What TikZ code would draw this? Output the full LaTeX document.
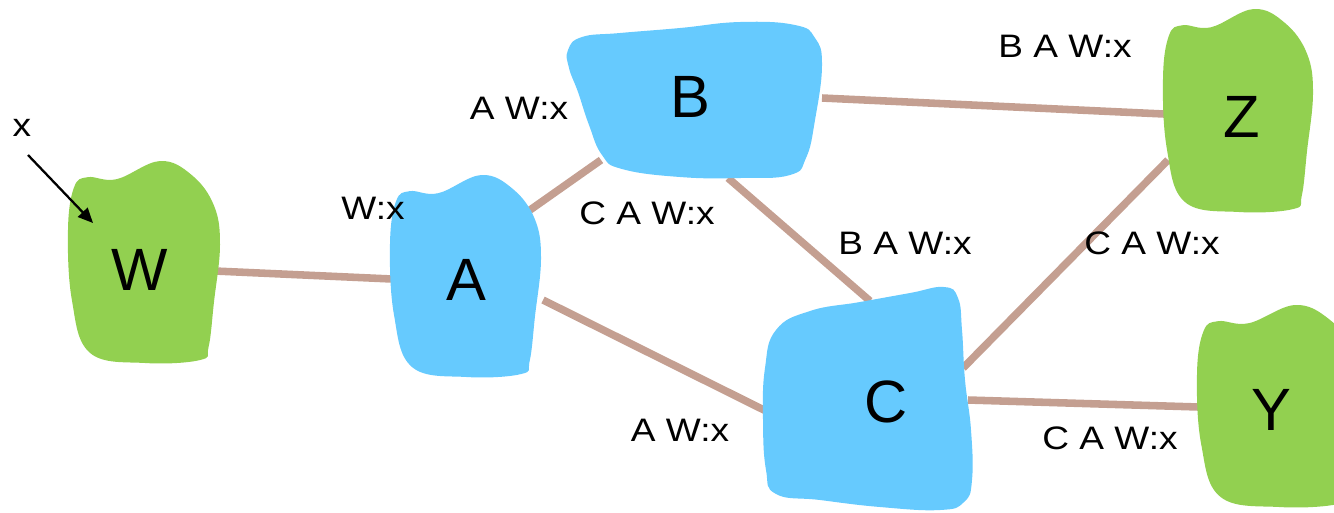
\documentclass[tikz,border=0pt]{standalone}
\usepackage{fontspec}
\setmainfont{Liberation Sans}
\newfontfamily\annfont[FakeStretch=1.14]{Liberation Sans}
\usetikzlibrary{arrows.meta}
\definecolor{leafgreen}{HTML}{92D050}
\definecolor{skyblue}{HTML}{66CAFE}
\definecolor{linktan}{HTML}{C49F91}
\tikzset{
  gwfill/.style={fill=leafgreen},
  rtfill/.style={fill=skyblue},
  link/.style={draw=linktan, line width=4.3pt},
  big/.style={font=\fontsize{34}{36}\selectfont, inner sep=0pt},
  ann/.style={font=\annfont\fontsize{18.5}{20}\selectfont, inner sep=0pt},
  % generic rounded cloud in a unit box, scaled per use
  cloud/.pic={
    \path[pic actions] plot[smooth cycle, tension=0.65] coordinates {
      (0.13,0.08) (0.32,0.09) (0.605,0) (0.815,0.07) (0.96,0.22)
      (1.0,0.415) (0.96,0.70) (0.925,0.92) (0.87,0.985) (0.507,1.0)
      (0.145,0.95) (0.026,0.69) (0,0.34) (0.04,0.13)};
  }
}
\begin{document}
\begin{tikzpicture}[x=0.02cm, y=-0.02cm]
\useasboundingbox (0,0) rectangle (1334,512);

% connector end points on the cloud rims
\coordinate (wa1) at (215,271);  \coordinate (wa2) at (392,279);
\coordinate (ab1) at (530,210);  \coordinate (ab2) at (601,160);
\coordinate (ac1) at (543,300);  \coordinate (ac2) at (768,412);
\coordinate (bc1) at (728,178);  \coordinate (bc2) at (870,301);
\coordinate (bz1) at (822,98);   \coordinate (bz2) at (1164,114);
\coordinate (cz1) at (963,368);  \coordinate (cz2) at (1168,160);
\coordinate (cy1) at (968,400);  \coordinate (cy2) at (1199,407);

% links
\draw[link] (wa1) -- (wa2);
\draw[link] (ab1) -- (ab2);
\draw[link] (ac1) -- (ac2);
\draw[link] (bc1) -- (bc2);
\draw[link] (bz1) -- (bz2);
\draw[link] (cz1) -- (cz2);
\draw[link] (cy1) -- (cy2);

% gateway clouds
\pic[gwfill, xscale=152, yscale=202] at (68,161) {cloud};
\pic[gwfill, xscale=150, yscale=203] at (1163,9) {cloud};
\pic[gwfill, xscale=162, yscale=202] at (1197,305) {cloud};
% router clouds
\pic[rtfill, xscale=151, yscale=202] at (390,175) {cloud};
\fill[rtfill] plot[smooth cycle, tension=0.75] coordinates {
  (568,50) (582,37) (620,33) (680,28) (740,22) (795,25) (815,38)
  (822,65) (815,120) (806,158) (790,175) (740,178) (680,177)
  (622,169) (602,155) (589,125) (578,92) (569,68)};
\fill[rtfill] plot[smooth cycle, tension=0.75] coordinates {
  (776,330) (810,311) (860,302) (910,293) (944,287) (958,298)
  (962,330) (965,380) (971,430) (972,480) (964,502) (940,510)
  (880,507) (820,500) (776,494) (766,470) (763,420) (765,368)};

% node names
\node[big] (W) at (140,270) {W};
\node[big] (A) at (466,280) {A};
\node[big] (B) at (690,97) {B};
\node[big] (C) at (886,402) {C};
\node[big] (Z) at (1242,117) {Z};
\node[big] (Y) at (1271,410) {Y};

% advertised paths
\node[ann] (lx) at (22,128) {x};
\node[ann] (lA) at (373,208) {W:x};
\node[ann] (lAB) at (519,108) {A W:x};
\node[ann] (lBA) at (647,213) {C A W:x};
\node[ann] (lZB) at (1065,46) {B A W:x};
\node[ann] (lCB) at (905,243) {B A W:x};
\node[ann] (lCZ) at (1152,243) {C A W:x};
\node[ann] (lCA) at (680,430) {A W:x};
\node[ann] (lYC) at (1110,438) {C A W:x};

% prefix x entering W
\coordinate (xtail) at (28,155);
\coordinate (xin) at (93,223);
\draw[line width=1.3pt, -{Triangle[length=8.5pt, width=7.5pt]}] (xtail) -- (xin);
\end{tikzpicture}
\end{document}
